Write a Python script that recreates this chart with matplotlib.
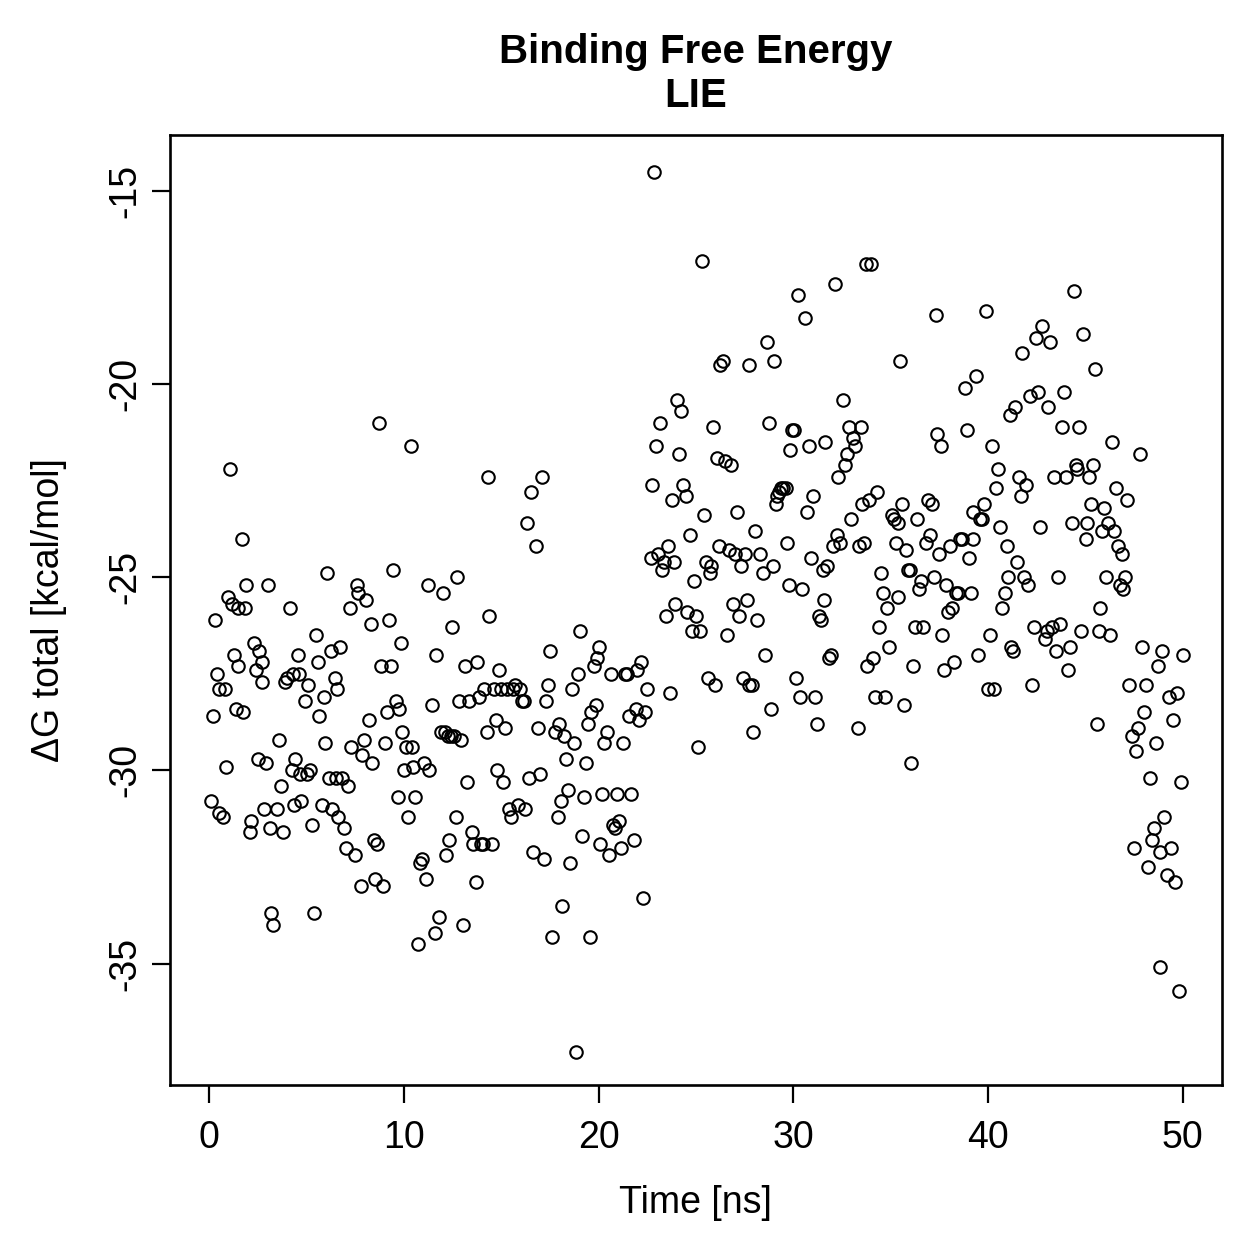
import matplotlib.pyplot as plt
import numpy as np

# ---------- Data (time [ns], dG total [kcal/mol]) ----------
time_ns = [
    0.1, 0.2, 0.3, 0.4, 0.5, 0.5, 0.7, 0.8, 0.9, 1.0,
    1.1, 1.2, 1.3, 1.4, 1.5, 1.5, 1.7, 1.75, 1.85, 1.9,
    2.1, 2.15, 2.3, 2.4, 2.5, 2.55, 2.7, 2.75, 2.85, 2.95,
    3.05, 3.15, 3.2, 3.3, 3.5, 3.6, 3.7, 3.8, 3.9, 4.0,
    4.15, 4.25, 4.3, 4.35, 4.4, 4.55, 4.6, 4.7, 4.75, 4.95,
    5.05, 5.1, 5.2, 5.3, 5.4, 5.5, 5.6, 5.65, 5.8, 5.9,
    5.95, 6.05, 6.15, 6.25, 6.3, 6.45, 6.5, 6.55, 6.65, 6.75,
    6.85, 6.95, 7.05, 7.15, 7.25, 7.3, 7.5, 7.6, 7.65, 7.8,
    7.85, 7.95, 8.05, 8.2, 8.3, 8.35, 8.45, 8.55, 8.65, 8.75,
    8.85, 8.95, 9.05, 9.15, 9.25, 9.35, 9.45, 9.6, 9.7, 9.75,
    9.85, 9.9, 10.0, 10.1, 10.2, 10.35, 10.4, 10.5, 10.6, 10.75,
    10.85, 10.95, 11.05, 11.15, 11.25, 11.3, 11.45, 11.6, 11.65, 11.8,
    11.9, 12.0, 12.1, 12.15, 12.25, 12.3, 12.45, 12.5, 12.6, 12.7,
    12.75, 12.85, 12.95, 13.05, 13.15, 13.25, 13.35, 13.5, 13.55, 13.7,
    13.75, 13.85, 13.95, 14.05, 14.1, 14.25, 14.35, 14.4, 14.55, 14.65,
    14.75, 14.8, 14.9, 15.0, 15.1, 15.2, 15.3, 15.4, 15.5, 15.6,
    15.7, 15.85, 15.95, 16.05, 16.15, 16.25, 16.35, 16.45, 16.55, 16.65,
    16.8, 16.9, 17.0, 17.1, 17.2, 17.3, 17.4, 17.5, 17.6, 17.75,
    17.9, 17.95, 18.05, 18.15, 18.25, 18.35, 18.45, 18.55, 18.65, 18.75,
    18.85, 18.95, 19.05, 19.15, 19.25, 19.35, 19.45, 19.55, 19.6, 19.75,
    19.85, 19.9, 20.0, 20.1, 20.2, 20.3, 20.45, 20.55, 20.65, 20.75,
    20.85, 20.95, 21.05, 21.15, 21.25, 21.35, 21.45, 21.55, 21.65, 21.8,
    21.9, 22.0, 22.1, 22.2, 22.3, 22.4, 22.5, 22.7, 22.75, 22.85,
    22.95, 23.05, 23.15, 23.25, 23.35, 23.45, 23.55, 23.65, 23.75, 23.85,
    23.95, 24.05, 24.15, 24.25, 24.35, 24.5, 24.55, 24.7, 24.8, 24.9,
    25.0, 25.1, 25.2, 25.3, 25.4, 25.5, 25.6, 25.7, 25.8, 25.9,
    26.0, 26.1, 26.2, 26.25, 26.4, 26.5, 26.6, 26.7, 26.8, 26.9,
    27.0, 27.1, 27.2, 27.3, 27.4, 27.5, 27.6, 27.7, 27.75, 27.9,
    27.95, 28.05, 28.15, 28.3, 28.45, 28.55, 28.65, 28.75, 28.85, 28.95,
    29.0, 29.1, 29.15, 29.25, 29.35, 29.45, 29.6, 29.7, 29.8, 29.85,
    29.95, 30.05, 30.15, 30.25, 30.35, 30.45, 30.6, 30.7, 30.8, 30.9,
    31.0, 31.1, 31.2, 31.3, 31.4, 31.5, 31.55, 31.65, 31.75, 31.85,
    31.95, 32.05, 32.15, 32.25, 32.3, 32.4, 32.55, 32.65, 32.75, 32.85,
    32.95, 33.05, 33.15, 33.3, 33.35, 33.45, 33.55, 33.65, 33.75, 33.8,
    33.9, 34.0, 34.1, 34.2, 34.3, 34.4, 34.5, 34.6, 34.7, 34.8,
    34.9, 35.05, 35.15, 35.25, 35.35, 35.4, 35.5, 35.6, 35.7, 35.8,
    35.9, 36.0, 36.05, 36.15, 36.25, 36.35, 36.45, 36.55, 36.65, 36.8,
    36.9, 37.0, 37.1, 37.2, 37.3, 37.4, 37.5, 37.6, 37.65, 37.75,
    37.85, 37.95, 38.05, 38.15, 38.25, 38.35, 38.45, 38.55, 38.65, 38.8,
    38.9, 39.0, 39.1, 39.2, 39.25, 39.4, 39.5, 39.6, 39.7, 39.8,
    39.9, 40.0, 40.1, 40.2, 40.3, 40.4, 40.5, 40.6, 40.7, 40.85,
    40.95, 41.0, 41.1, 41.2, 41.3, 41.4, 41.5, 41.6, 41.7, 41.75,
    41.85, 41.95, 42.05, 42.15, 42.25, 42.35, 42.45, 42.55, 42.65, 42.75,
    42.9, 43.0, 43.1, 43.2, 43.3, 43.4, 43.5, 43.6, 43.7, 43.8,
    43.9, 44.0, 44.1, 44.2, 44.3, 44.4, 44.5, 44.55, 44.65, 44.75,
    44.85, 45.0, 45.1, 45.2, 45.3, 45.4, 45.5, 45.6, 45.7, 45.75,
    45.85, 45.95, 46.05, 46.15, 46.25, 46.35, 46.45, 46.55, 46.65, 46.75,
    46.85, 46.95, 47.05, 47.15, 47.25, 47.4, 47.5, 47.6, 47.7, 47.8,
    47.9, 48.0, 48.1, 48.2, 48.3, 48.4, 48.5, 48.6, 48.7, 48.8,
    48.85, 48.95, 49.05, 49.2, 49.3, 49.4, 49.5, 49.6, 49.7, 49.8,
    49.9, 50.0,
]

dg_total = [
    -30.8, -28.6, -26.1, -27.5, -27.9, -31.1, -31.2, -27.9, -29.9, -25.5,
    -22.2, -25.7, -27.0, -28.4, -27.3, -25.8, -24.0, -28.5, -25.8, -25.2,
    -31.6, -31.3, -26.7, -27.4, -29.7, -26.9, -27.2, -27.7, -31.0, -29.8,
    -25.2, -31.5, -33.7, -34.0, -31.0, -29.2, -30.4, -31.6, -27.7, -27.6,
    -25.8, -30.0, -27.5, -30.9, -29.7, -27.0, -27.5, -30.1, -30.8, -28.2,
    -30.1, -27.8, -30.0, -31.4, -33.7, -26.5, -27.2, -28.6, -30.9, -28.1,
    -29.3, -24.9, -30.2, -26.9, -31.0, -27.6, -30.2, -27.9, -31.2, -26.8,
    -30.2, -31.5, -32.0, -30.4, -25.8, -29.4, -32.2, -25.2, -25.4, -33.0,
    -29.6, -29.2, -25.6, -28.7, -26.2, -29.8, -31.8, -32.8, -31.9, -21.0,
    -27.3, -33.0, -29.3, -28.5, -26.1, -27.3, -24.8, -28.2, -30.7, -28.4,
    -26.7, -29.0, -30.0, -29.4, -31.2, -21.6, -29.4, -29.9, -30.7, -34.5,
    -32.4, -32.3, -29.8, -32.8, -25.2, -30.0, -28.3, -34.2, -27.0, -33.8,
    -29.0, -25.4, -29.0, -32.2, -29.1, -31.8, -29.1, -26.3, -29.1, -31.2,
    -25.0, -28.2, -29.2, -34.0, -27.3, -30.3, -28.2, -31.6, -31.9, -32.9,
    -27.2, -28.1, -31.9, -31.9, -27.9, -29.0, -22.4, -26.0, -31.9, -27.9,
    -28.7, -30.0, -27.4, -27.9, -30.3, -28.9, -27.9, -31.0, -31.2, -27.9,
    -27.8, -30.9, -27.9, -28.2, -28.2, -31.0, -23.6, -30.2, -22.8, -32.1,
    -24.2, -28.9, -30.1, -22.4, -32.3, -28.2, -27.8, -26.9, -34.3, -29.0,
    -31.2, -28.8, -30.8, -33.5, -29.1, -29.7, -30.5, -32.4, -27.9, -29.3,
    -37.3, -27.5, -26.4, -31.7, -30.7, -29.8, -28.8, -34.3, -28.5, -27.3,
    -28.3, -27.1, -26.8, -31.9, -30.6, -29.3, -29.0, -32.2, -27.5, -31.4,
    -31.5, -30.6, -31.3, -32.0, -29.3, -27.5, -27.5, -28.6, -30.6, -31.8,
    -28.4, -27.4, -28.7, -27.2, -33.3, -28.5, -27.9, -24.5, -22.6, -14.5,
    -21.6, -24.4, -21.0, -24.8, -24.6, -26.0, -24.2, -28.0, -23.0, -24.6,
    -25.7, -20.4, -21.8, -20.7, -22.6, -22.9, -25.9, -23.9, -26.4, -25.1,
    -26.0, -29.4, -26.4, -16.8, -23.4, -24.6, -27.6, -24.9, -24.7, -21.1,
    -27.8, -21.9, -24.2, -19.5, -19.4, -22.0, -26.5, -24.3, -22.1, -25.7,
    -24.4, -23.3, -26.0, -24.7, -27.6, -24.4, -25.6, -27.8, -19.5, -27.8,
    -29.0, -23.8, -26.1, -24.4, -24.9, -27.0, -18.9, -21.0, -28.4, -24.7,
    -19.4, -23.1, -22.9, -22.8, -22.7, -22.7, -22.7, -24.1, -25.2, -21.7,
    -21.2, -21.2, -27.6, -17.7, -28.1, -25.3, -18.3, -23.3, -21.6, -24.5,
    -22.9, -28.1, -28.8, -26.0, -26.1, -24.8, -25.6, -21.5, -24.7, -27.1,
    -27.0, -24.2, -17.4, -23.9, -22.4, -24.1, -20.4, -22.1, -21.8, -21.1,
    -23.5, -21.4, -21.6, -28.9, -24.2, -21.1, -23.1, -24.1, -16.9, -27.3,
    -23.0, -16.9, -27.1, -28.1, -22.8, -26.3, -24.9, -25.4, -28.1, -25.8,
    -26.8, -23.4, -23.5, -24.1, -23.6, -25.5, -19.4, -23.1, -28.3, -24.3,
    -24.8, -24.8, -29.8, -27.3, -26.3, -23.5, -25.3, -25.1, -26.3, -24.1,
    -23.0, -23.9, -23.1, -25.0, -18.2, -21.3, -24.4, -21.6, -26.5, -27.4,
    -25.2, -25.9, -24.2, -25.8, -27.2, -25.4, -25.4, -24.0, -24.0, -20.1,
    -21.2, -24.5, -25.4, -24.0, -23.3, -19.8, -27.0, -23.5, -23.5, -23.1,
    -18.1, -27.9, -26.5, -21.6, -27.9, -22.7, -22.2, -23.7, -25.8, -25.4,
    -24.2, -25.0, -20.8, -26.8, -26.9, -20.6, -24.6, -22.4, -22.9, -19.2,
    -25.0, -22.6, -25.2, -20.3, -27.8, -26.3, -18.8, -20.2, -23.7, -18.5,
    -26.6, -26.4, -20.6, -18.9, -26.3, -22.4, -26.9, -25.0, -26.2, -21.1,
    -20.2, -22.4, -27.4, -26.8, -23.6, -17.6, -22.1, -22.2, -21.1, -26.4,
    -18.7, -24.0, -23.6, -22.4, -23.1, -22.1, -19.6, -28.8, -26.4, -25.8,
    -23.8, -23.2, -25.0, -23.6, -26.5, -21.5, -23.8, -22.7, -24.2, -25.2,
    -24.4, -25.3, -25.0, -23.0, -27.8, -29.1, -32.0, -29.5, -28.9, -21.8,
    -26.8, -28.5, -27.8, -32.5, -30.2, -31.8, -31.5, -29.3, -27.3, -32.1,
    -35.1, -26.9, -31.2, -32.7, -28.1, -32.0, -28.7, -32.9, -28.0, -35.7,
    -30.3, -27.0,
]

x_ticks = [0, 10, 20, 30, 40, 50]
y_ticks = [-35, -30, -25, -20, -15]

# ---------- Figure ----------
plt.rcParams['font.family'] = ['Liberation Sans', 'DejaVu Sans']
plt.rcParams['axes.unicode_minus'] = False
fig = plt.figure(figsize=(12.59, 12.59), dpi=100)
ax = fig.add_axes([0.135, 0.138, 0.8355, 0.7548])

ax.plot(time_ns, dg_total, linestyle='none', marker='o', markersize=9,
        markerfacecolor='none', markeredgecolor='black', markeredgewidth=1.5)

ax.set_xlim(-2, 52)
ax.set_ylim(-38.15, -13.55)
ax.set_xticks(x_ticks)
ax.set_yticks(y_ticks)
ax.tick_params(axis='both', labelsize=27, length=13, width=1.6)
ax.tick_params(axis='x', pad=12)
ax.tick_params(axis='y', pad=6)
for lab in ax.get_yticklabels():
    lab.set_rotation(90)
    lab.set_va('center')

for sp in ax.spines.values():
    sp.set_linewidth(1.9)

ax.set_xlabel('Time [ns]', fontsize=27, labelpad=21)
ax.set_ylabel('ΔG total [kcal/mol]', fontsize=27, labelpad=29)
ax.set_title('Binding Free Energy\nLIE', fontsize=29, fontweight='bold', pad=20)

fig.savefig('out.png', dpi=100)
